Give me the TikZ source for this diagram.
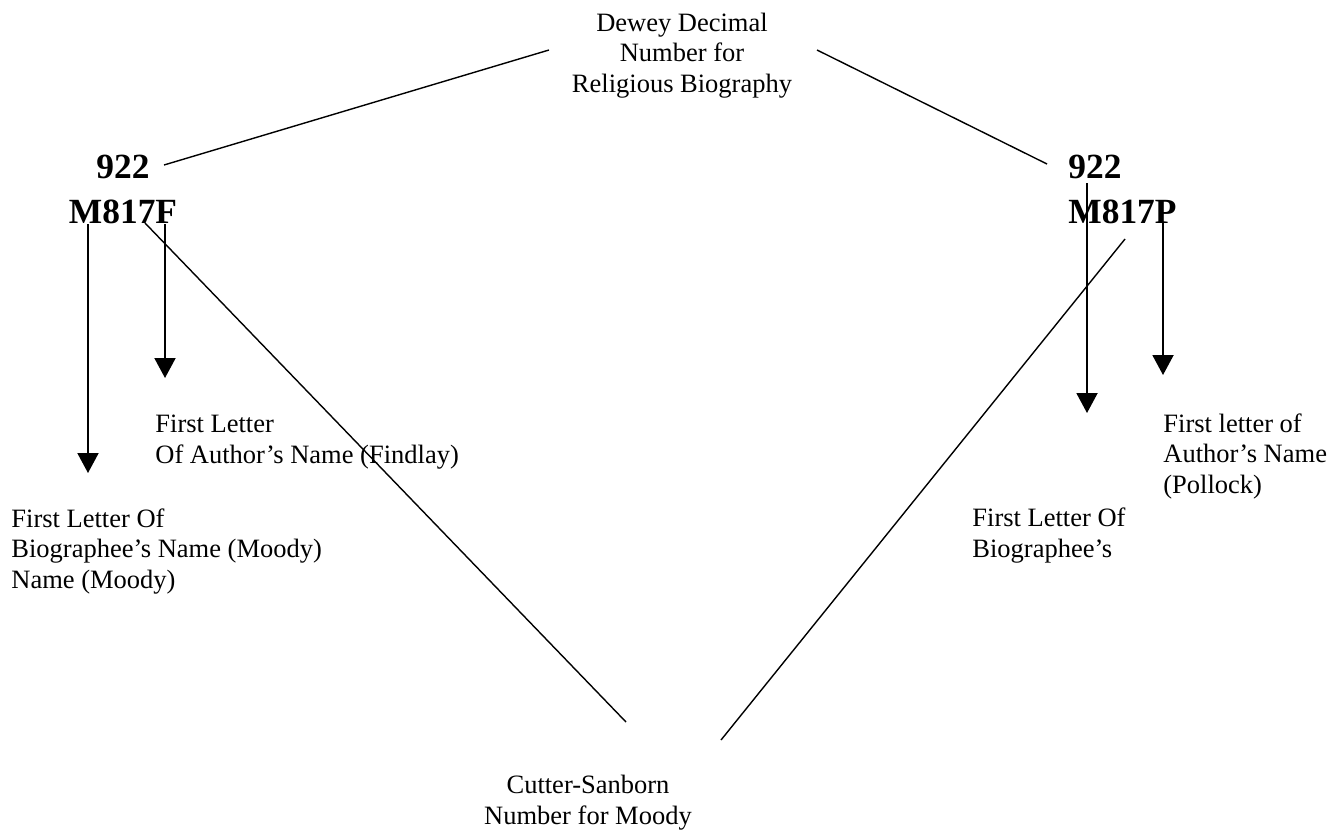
\documentclass[tikz,border=0pt]{standalone}
\usepackage{fontspec}
\setmainfont{Liberation Serif}
\usetikzlibrary{arrows.meta}

\begin{document}
\begin{tikzpicture}[
  x=0.5pt, y=-0.5pt,
  lbl/.style={
    inner sep=0pt, font=\fontsize{13.25}{15.25}\selectfont
  },
  callno/.style={
    inner sep=0pt, font=\fontsize{17.7}{22.5}\selectfont\bfseries
  },
  ptr/.style={-{Triangle[width=10.5pt,length=10pt]}, line width=1pt},
  lnk/.style={line width=0.7pt}
]
  \useasboundingbox (0,0) rectangle (1342,831);
  \node[lbl, align=center, anchor=base] (dewey) at (682,92)
    {Dewey Decimal\\Number for\\Religious Biography};
  \node[callno, align=center, anchor=base] (lnum) at (123,223) {922\\M817F};
  \node[callno, align=left, anchor=base west] (rnum) at (1068,223) {922\\M817P};
  \node[lbl, align=left, anchor=base west] (findlay) at (155,463)
    {First Letter\\Of Author’s Name (Findlay)};
  \node[lbl, align=left, anchor=base west] (moodyl) at (11,588)
    {First Letter Of\\Biographee’s Name (Moody)\\Name (Moody)};
  \node[lbl, align=left, anchor=base west] (pollock) at (1163,493)
    {First letter of\\Author’s Name\\(Pollock)};
  \node[lbl, align=left, anchor=base west] (moodyr) at (972,557)
    {First Letter Of\\Biographee’s};
  \node[lbl, align=center, anchor=base] (cutter) at (588,824)
    {Cutter-Sanborn\\Number for Moody};
  \coordinate (dl) at (549,50);
  \coordinate (dr) at (817,50);
  \coordinate (ln) at (164,165);
  \coordinate (rn) at (1047,164);
  \coordinate (lm) at (88,224);
  \coordinate (lf) at (165,224);
  \coordinate (l7) at (145,223);
  \coordinate (rm) at (1087,183);
  \coordinate (rp) at (1163,223);
  \coordinate (r7) at (1125,239);
  \coordinate (lmend) at (88,473);
  \coordinate (lfend) at (165,378);
  \coordinate (rmend) at (1087,413);
  \coordinate (rpend) at (1163,375);
  \coordinate (cl) at (626,722);
  \coordinate (cr) at (721,740);
  \draw[lnk] (dl)--(ln);
  \draw[lnk] (dr)--(rn);
  \draw[lnk] (l7)--(cl);
  \draw[lnk] (r7)--(cr);
  \foreach \a/\b in {lm/lmend,lf/lfend,rm/rmend,rp/rpend} {
    \draw[ptr] (\a)--(\b);
  }
\end{tikzpicture}
\end{document}
